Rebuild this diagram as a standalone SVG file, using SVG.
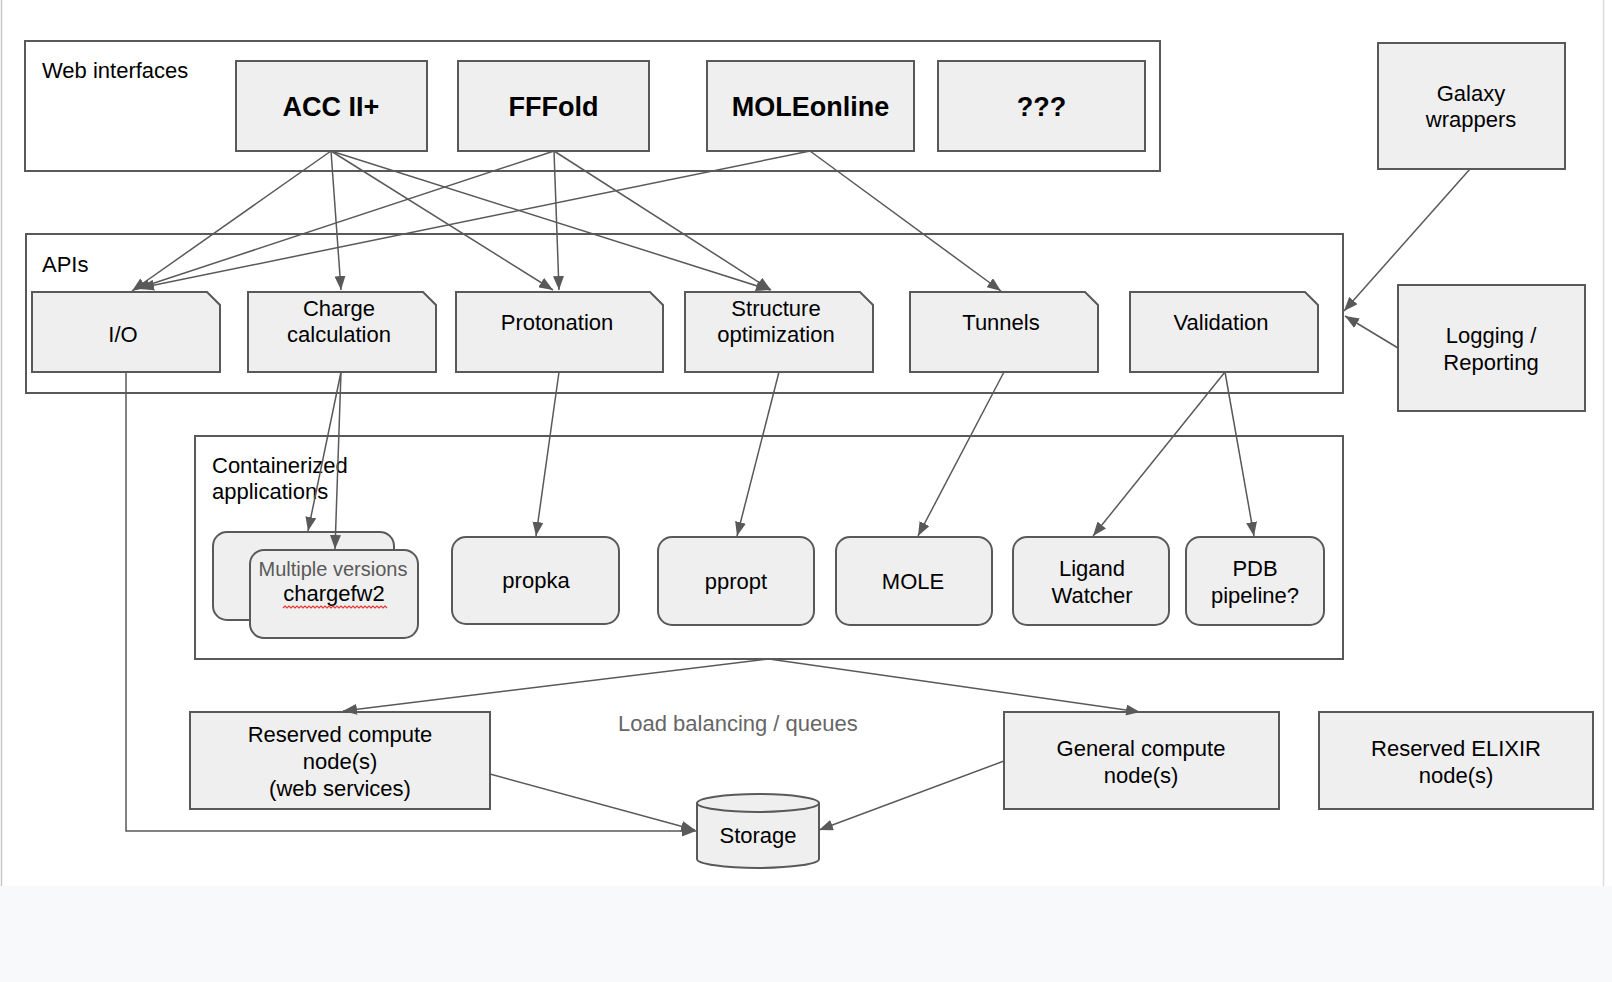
<svg xmlns="http://www.w3.org/2000/svg" width="1612" height="982" viewBox="0 0 1612 982">
<defs>
<marker id="ah" viewBox="0 0 14 11" refX="14" refY="5.5" markerWidth="14" markerHeight="11" markerUnits="userSpaceOnUse" orient="auto">
<path d="M0,0 L14,5.5 L0,11 Z" fill="#595959"/>
</marker>
<style>
text{font-family:"Liberation Sans",Arial,Helvetica,sans-serif;font-size:22px;fill:#000}
.c{text-anchor:middle}
.b{font-weight:bold;font-size:27px}
.grp{fill:#fff;stroke:#595959;stroke-width:2}
.n{fill:#efefef;stroke:#595959;stroke-width:2}
.e{fill:none;stroke:#595959;stroke-width:1.5;marker-end:url(#ah)}
.sub{font-size:20px;fill:#595959}
.lb{fill:#666666}
</style>
</defs>
<rect x="0" y="0" width="1612" height="982" fill="#fff"/>
<rect x="0" y="886" width="1612" height="96" fill="#f8f9fa"/>
<line x1="1.5" y1="0" x2="1.5" y2="886" stroke="#c8c8c8" stroke-width="1.5"/>
<line x1="1603.5" y1="0" x2="1603.5" y2="886" stroke="#dadce0" stroke-width="1.5"/>

<g id="web-interfaces">
<rect class="grp" x="25" y="41" width="1135" height="130"/>
<text x="42" y="78">Web interfaces</text>
</g>
<g id="apis">
<rect class="grp" x="26" y="234" width="1317" height="159"/>
<text x="42" y="272">APIs</text>
</g>
<g id="containerized">
<rect class="grp" x="195" y="436" width="1148" height="223"/>
<text x="212" y="473">Containerized</text>
<text x="212" y="499">applications</text>
</g>

<g id="acc"><rect class="n" x="236" y="61" width="191" height="90"/><text class="c b" x="331" y="116">ACC II+</text></g>
<g id="fffold"><rect class="n" x="458" y="61" width="191" height="90"/><text class="c b" x="553.5" y="116">FFFold</text></g>
<g id="moleonline"><rect class="n" x="707" y="61" width="207" height="90"/><text class="c b" x="810.5" y="116">MOLEonline</text></g>
<g id="unknown"><rect class="n" x="938" y="61" width="207" height="90"/><text class="c b" x="1041.5" y="116">???</text></g>
<g id="galaxy"><rect class="n" x="1378" y="43" width="187" height="126"/><text class="c" x="1471" y="101">Galaxy</text><text class="c" x="1471" y="127">wrappers</text></g>
<g id="logging"><rect class="n" x="1398" y="285" width="187" height="126"/><text class="c" x="1491" y="343">Logging /</text><text class="c" x="1491" y="370">Reporting</text></g>

<g id="io"><path class="n" d="M32,292 H207 L220,305 V372 H32 Z"/><text class="c" x="123" y="342">I/O</text></g>
<g id="charge"><path class="n" d="M248,292 H423 L436,305 V372 H248 Z"/><text class="c" x="339" y="316">Charge</text><text class="c" x="339" y="342">calculation</text></g>
<g id="protonation"><path class="n" d="M456,292 H650 L663,305 V372 H456 Z"/><text class="c" x="557" y="330">Protonation</text></g>
<g id="structure"><path class="n" d="M685,292 H860 L873,305 V372 H685 Z"/><text class="c" x="776" y="316">Structure</text><text class="c" x="776" y="342">optimization</text></g>
<g id="tunnels"><path class="n" d="M910,292 H1085 L1098,305 V372 H910 Z"/><text class="c" x="1001" y="330">Tunnels</text></g>
<g id="validation"><path class="n" d="M1130,292 H1305 L1318,305 V372 H1130 Z"/><text class="c" x="1221" y="330">Validation</text></g>

<g id="chargefw2">
<rect class="n" x="213" y="532" width="181" height="88" rx="14"/>
<rect class="n" x="250" y="550" width="168" height="88" rx="14"/>
<text class="c sub" x="333" y="576">Multiple versions</text>
<text class="c" x="334" y="601">chargefw2</text>
<path d="M283,608 l2,-2 l2,2 l2,-2 l2,2 l2,-2 l2,2 l2,-2 l2,2 l2,-2 l2,2 l2,-2 l2,2 l2,-2 l2,2 l2,-2 l2,2 l2,-2 l2,2 l2,-2 l2,2 l2,-2 l2,2 l2,-2 l2,2 l2,-2 l2,2 l2,-2 l2,2 l2,-2 l2,2 l2,-2 l2,2 l2,-2 l2,2 l2,-2 l2,2 l2,-2 l2,2 l2,-2 l2,2 l2,-2 l2,2 l2,-2 l2,2 l2,-2 l2,2 l2,-2 l2,2 l2,-2 l2,2 l2,-2 l2,2" fill="none" stroke="#e53935" stroke-width="1.2"/>
</g>
<g id="propka"><rect class="n" x="452" y="537" width="167" height="87" rx="14"/><text class="c" x="536" y="588">propka</text></g>
<g id="ppropt"><rect class="n" x="658" y="537" width="156" height="88" rx="14"/><text class="c" x="736" y="589">ppropt</text></g>
<g id="mole"><rect class="n" x="836" y="537" width="156" height="88" rx="14"/><text class="c" x="913" y="589">MOLE</text></g>
<g id="ligand"><rect class="n" x="1013" y="537" width="156" height="88" rx="14"/><text class="c" x="1092" y="576">Ligand</text><text class="c" x="1092" y="603">Watcher</text></g>
<g id="pdb"><rect class="n" x="1186" y="537" width="138" height="88" rx="14"/><text class="c" x="1255" y="576">PDB</text><text class="c" x="1255" y="603">pipeline?</text></g>

<g id="reserved-compute"><rect class="n" x="190" y="712" width="300" height="97"/><text class="c" x="340" y="742">Reserved compute</text><text class="c" x="340" y="769">node(s)</text><text class="c" x="340" y="796">(web services)</text></g>
<g id="general-compute"><rect class="n" x="1004" y="712" width="275" height="97"/><text class="c" x="1141" y="756">General compute</text><text class="c" x="1141" y="783">node(s)</text></g>
<g id="reserved-elixir"><rect class="n" x="1319" y="712" width="274" height="97"/><text class="c" x="1456" y="756">Reserved ELIXIR</text><text class="c" x="1456" y="783">node(s)</text></g>
<g id="load-balancing"><text class="lb" x="618" y="731">Load balancing / queues</text></g>
<g id="storage">
<path class="n" d="M697,803 V859 A61,9 0 0 0 819,859 V803"/>
<ellipse class="n" cx="758" cy="803" rx="61" ry="9"/>
<text class="c" x="758" y="843">Storage</text>
</g>

<g id="connectors">
<line class="e" x1="331" y1="151" x2="132" y2="291"/>
<line class="e" x1="331" y1="151" x2="341" y2="290"/>
<line class="e" x1="331" y1="151" x2="553" y2="290"/>
<line class="e" x1="331" y1="151" x2="770" y2="290"/>
<line class="e" x1="554" y1="151" x2="136" y2="289"/>
<line class="e" x1="554" y1="151" x2="559" y2="290"/>
<line class="e" x1="554" y1="151" x2="771" y2="290"/>
<line class="e" x1="810" y1="151" x2="140" y2="288"/>
<line class="e" x1="810" y1="151" x2="1001" y2="291"/>
<line class="e" x1="1470" y1="169" x2="1344" y2="311"/>
<line class="e" x1="1398" y1="348" x2="1345" y2="316"/>
<line class="e" x1="341" y1="372" x2="308" y2="531"/>
<line class="e" x1="341" y1="372" x2="335" y2="549"/>
<line class="e" x1="559" y1="372" x2="536" y2="536"/>
<line class="e" x1="779" y1="372" x2="737" y2="536"/>
<line class="e" x1="1004" y1="372" x2="918" y2="536"/>
<line class="e" x1="1225" y1="372" x2="1093" y2="536"/>
<line class="e" x1="1225" y1="372" x2="1254" y2="536"/>
<line class="e" x1="769" y1="659" x2="343" y2="711"/>
<line class="e" x1="769" y1="659" x2="1140" y2="712"/>
<polyline class="e" points="126,372 126,831 696,831"/>
<line class="e" x1="490" y1="774" x2="695" y2="830"/>
<line class="e" x1="1004" y1="761" x2="819" y2="830"/>
</g>
</svg>
